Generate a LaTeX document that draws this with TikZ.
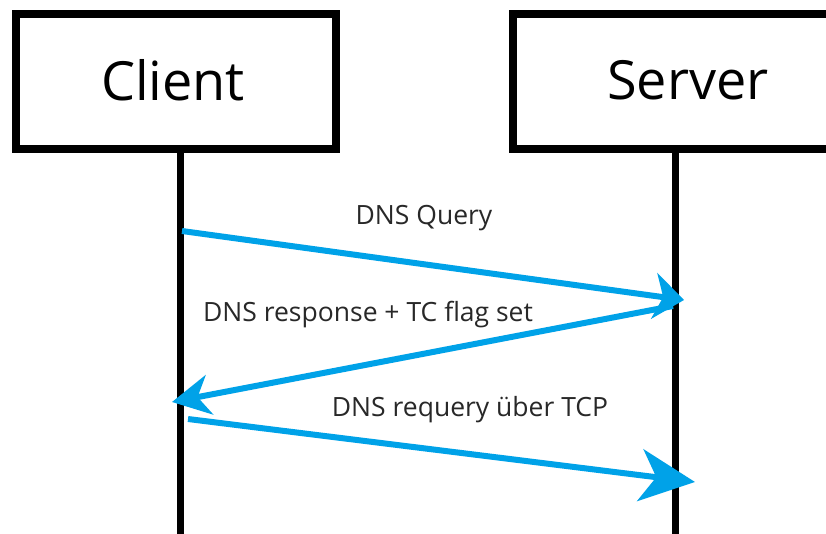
\documentclass[tikz,border=0pt]{standalone}
\usepackage{fontspec}
\setmainfont{Open Sans}
\usetikzlibrary{arrows.meta}
\definecolor{msgblue}{RGB}{0,162,232}
\definecolor{labelgray}{RGB}{40,40,40}
\tikzset{
  actor/.style={draw=black, line width=8pt, fill=white},
  actorname/.style={font=\fontsize{54}{54}\selectfont, text=black, inner sep=0pt},
  lifeline/.style={draw=black, line width=7pt},
  message/.style={draw=msgblue, line width=6pt},
  msglabel/.style={font=\fontsize{26.5}{26.5}\selectfont, text=labelgray, inner sep=0pt},
}
\begin{document}
\begin{tikzpicture}[x=1pt,y=-1pt]
  \useasboundingbox (0,0) rectangle (826,534);
  \clip (0,0) rectangle (826,534);
  \fill[white] (0,0) rectangle (826,534);

  % lifelines
  \coordinate (ctop) at (180.5,150);
  \coordinate (cbot) at (180.5,540);
  \coordinate (stop) at (675,150);
  \coordinate (sbot) at (675,540);
  \draw[lifeline] (ctop) -- (cbot);
  \draw[lifeline] (stop) -- (sbot);

  % actor boxes
  \draw[actor] (16,14) rectangle (336,149);
  \draw[actor] (513,14) rectangle (834,149);
  \node[actorname] (client) at (173,80) {Client};
  \node[actorname] (server) at (688,80) {Server};

  % message end points
  \coordinate (q1) at (182,231);
  \coordinate (q2) at (684,300);
  \coordinate (r1) at (673,306);
  \coordinate (r2) at (172,402);
  \coordinate (t1) at (188,419);
  \coordinate (t2) at (695,482);

  \draw[message, -{Stealth[length=30pt,width=46pt,inset=9pt]}] (q1) -- (q2);
  \draw[message, -{Stealth[length=38pt,width=40pt,inset=12pt]}] (r1) -- (r2);
  \draw[message, -{Stealth[length=55pt,width=52pt,inset=16pt]}] (t1) -- (t2);

  % message labels
  \node[msglabel] (lq) at (424,218) {DNS Query};
  \node[msglabel] (lr) at (368,315) {DNS response + TC flag set};
  \node[msglabel] (lt) at (470,410) {DNS requery über TCP};
\end{tikzpicture}
\end{document}
